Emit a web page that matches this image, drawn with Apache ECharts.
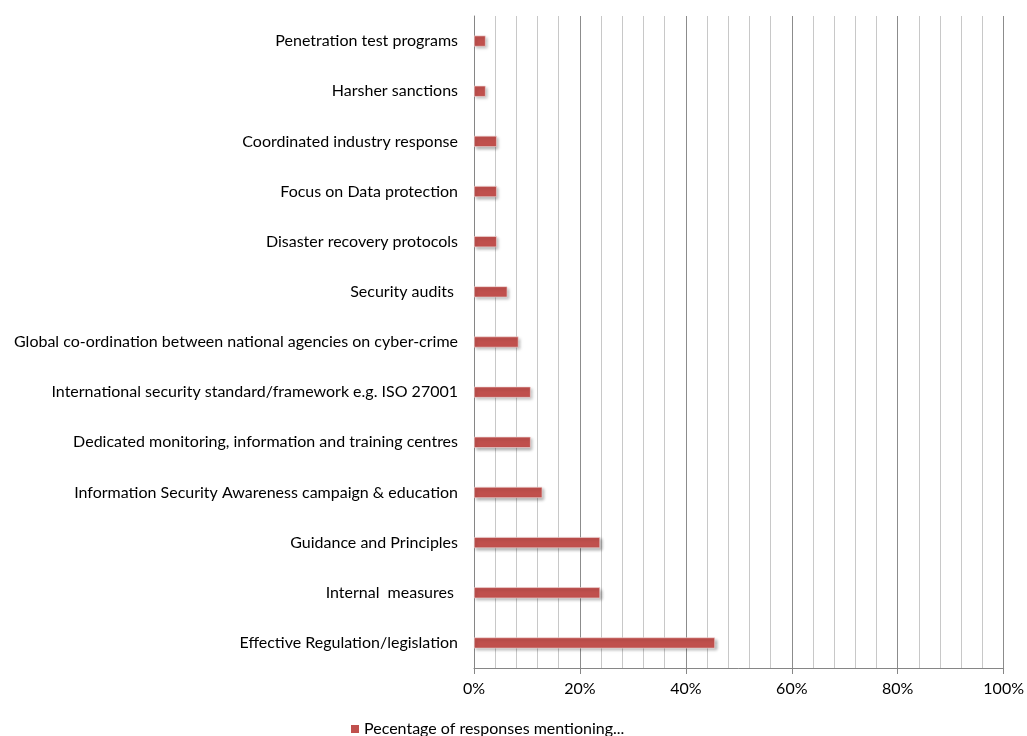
<!DOCTYPE html>
<html><head><meta charset="utf-8">
<script src="https://cdn.jsdelivr.net/npm/echarts@6/dist/echarts.min.js"></script>
<style>html,body{margin:0;padding:0;background:#fff}#c{width:1027px;height:736px}</style>
</head><body><div id="c"></div>
<script>
const categories = [
  "Penetration test programs",
  "Harsher sanctions",
  "Coordinated industry response",
  "Focus on Data protection",
  "Disaster recovery protocols",
  "Security audits ",
  "Global co-ordination between national agencies on cyber-crime",
  "International security standard/framework e.g. ISO 27001",
  "Dedicated monitoring, information and training centres",
  "Information Security Awareness campaign & education",
  "Guidance and Principles",
  "Internal  measures ",
  "Effective Regulation/legislation"
];
const values = [2.2, 2.2, 4.3, 4.3, 4.3, 6.3, 8.4, 10.7, 10.7, 12.9, 23.8, 23.8, 45.5];
const seriesName = "Pecentage of responses mentioning...";

const FONT = "Lato";
const chart = echarts.init(document.getElementById('c'));
chart.setOption({
  animation: false,
  grid: {left: 474, right: 23, top: 16, bottom: 68, containLabel: false},
  legend: {
    data: [seriesName], bottom: -6, left: 346, itemWidth: 8, itemHeight: 8, itemGap: 6,
    icon: 'rect',
    itemStyle: {borderWidth: 0, shadowBlur: 0, shadowOffsetX: 0, shadowOffsetY: 0},
    textStyle: {fontFamily: FONT, fontSize: 16, color: '#000'}
  },
  xAxis: {
    type: 'value', min: 0, max: 100, interval: 20,
    axisLine: {show: true, lineStyle: {color: '#868686'}},
    axisTick: {show: true, length: 6, lineStyle: {color: '#868686'}},
    axisLabel: {formatter: '{value}%', fontFamily: FONT, fontSize: 16, color: '#000', margin: 13},
    splitLine: {show: true, lineStyle: {color: '#8c8c8c'}},
    minorTick: {show: false, splitNumber: 5},
    minorSplitLine: {show: true, lineStyle: {color: '#c8c8c8'}}
  },
  yAxis: {
    type: 'category', data: categories, inverse: true,
    axisLine: {show: true, lineStyle: {color: '#868686'}},
    axisTick: {show: false},
    axisLabel: {fontFamily: FONT, fontSize: 16, color: '#000', margin: 16}
  },
  series: [{
    name: seriesName, type: 'bar', data: values, barWidth: 11,
    itemStyle: {
      color: '#C0504D', borderColor: '#f3dcdb', borderWidth: 0.6,
      shadowColor: 'rgba(0,0,0,0.3)', shadowBlur: 3, shadowOffsetX: 2, shadowOffsetY: 2
    }
  }]
});
</script></body></html>
